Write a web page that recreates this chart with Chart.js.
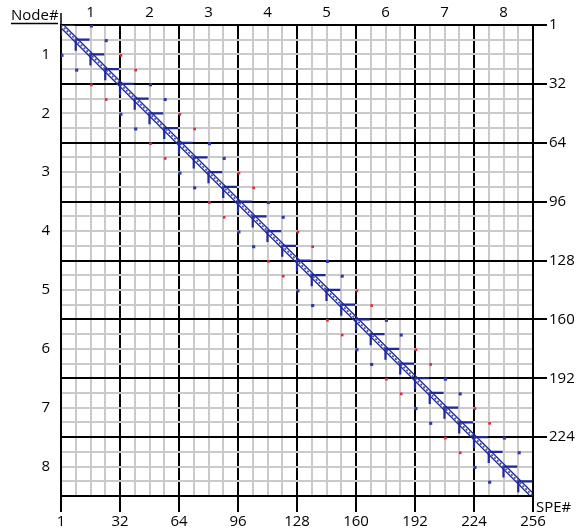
<!DOCTYPE html>
<html>
<head>
<meta charset="utf-8">
<script src="https://cdn.jsdelivr.net/npm/chart.js@4/dist/chart.umd.min.js"></script>
<style>
	body { margin: 0; background: #fff; }
</style>
</head>
<body>
<canvas id="grafico" width="576" height="529"></canvas>
<script>
// rotulos dos eixos
const rotulosNode = ['1', '2', '3', '4', '5', '6', '7', '8'];
const rotulosSpe = [1, 32, 64, 96, 128, 160, 192, 224, 256];

// inicio de cada bloco de 8 SPEs na diagonal (cantos em L)
const iniciosBloco = [1, 9, 17, 25, 33, 41, 49, 57, 65, 73, 81, 89, 97, 105, 113, 121,
	129, 137, 145, 153, 161, 169, 177, 185, 193, 201, 209, 217, 225, 233, 241, 249];

// pontos [coluna, linha] dentro do mesmo node (azul)
const pontosAzuis = [
	[17, 1], [25, 9], [1, 17], [9, 25],
	[49, 33], [57, 41], [33, 49], [41, 57],
	[81, 65], [89, 73], [65, 81], [73, 89],
	[113, 97], [121, 105], [97, 113], [105, 121],
	[145, 129], [153, 137], [129, 145], [137, 153],
	[177, 161], [185, 169], [161, 177], [169, 185],
	[209, 193], [217, 201], [193, 209], [201, 217],
	[241, 225], [249, 233], [225, 241], [233, 249]
];

// pontos [coluna, linha] entre nodes vizinhos (vermelho)
const pontosVermelhos = [
	[33, 17], [41, 25], [17, 33], [25, 41],
	[65, 49], [73, 57], [49, 65], [57, 73],
	[97, 81], [105, 89], [81, 97], [89, 105],
	[129, 113], [137, 121], [113, 129], [121, 137],
	[161, 145], [169, 153], [145, 161], [153, 169],
	[193, 177], [201, 185], [177, 193], [185, 201],
	[225, 209], [233, 217], [209, 225], [217, 233]
];

const AZUL = '#1f2a98';
const FONTE = { family: 'Open Sans', size: 15 };

function montaCantos() {
	const pts = [];
	iniciosBloco.forEach(s => {
		const c = s - 1;
		// y nulo quebra a linha entre um L e o proximo
		pts.push({ x: c + 7.5, y: c }, { x: c, y: c }, { x: c, y: c + 6 }, { x: c, y: null });
	});
	return pts;
}

function rotuloSpe(valor) {
	const achado = rotulosSpe.find(s => (s === 1 ? 0 : s) === valor);
	return achado === undefined ? '' : String(achado);
}

const corGrade = (ctx) => (ctx.tick && ctx.tick.value % 32 === 0) ? '#000' : '#cacaca';

// textos soltos: Node# e SPE#
const pluginTextos = {
	id: 'textos',
	afterDraw(chart) {
		const c = chart.ctx;
		const a = chart.chartArea;
		c.save();
		c.fillStyle = '#000';
		c.strokeStyle = '#000';
		c.font = '15px "Open Sans"';
		c.textBaseline = 'alphabetic';
		c.textAlign = 'left';
		c.fillText('Node#', 11, 20);
		c.fillText('SPE#', a.right + 3, a.bottom + 16);
		c.lineWidth = 1.5;
		c.beginPath();
		c.moveTo(11, 23.5);
		c.lineTo(58, 23.5);
		c.moveTo(a.left, a.top);
		c.lineTo(a.left, 13);
		c.stroke();
		c.restore();
	}
};

const ctx = document.getElementById('grafico');
new Chart(ctx, {
	type: 'scatter',
	data: {
		datasets: [
			{
				data: [{ x: 0.5, y: 2 }, { x: 254, y: 255.5 }],
				showLine: true, borderColor: AZUL, borderWidth: 1.3, pointRadius: 0
			},
			{
				data: [{ x: 2, y: 0.5 }, { x: 255.5, y: 254 }],
				showLine: true, borderColor: AZUL, borderWidth: 1.3, pointRadius: 0
			},
			{
				data: [{ x: 0, y: 0 }, { x: 256, y: 256 }],
				showLine: true, borderColor: '#3a46b5', borderWidth: 1.6, borderDash: [2, 2], pointRadius: 0
			},
			{
				data: montaCantos(),
				showLine: true, spanGaps: false, borderColor: AZUL, borderWidth: 2.2, pointRadius: 0
			},
			{
				data: pontosAzuis.map(p => ({ x: p[0] - 0.5, y: p[1] - 0.5 })),
				pointStyle: 'rect', pointRadius: 2.2, backgroundColor: '#2c38a8', borderWidth: 0
			},
			{
				data: pontosVermelhos.map(p => ({ x: p[0] - 0.5, y: p[1] - 0.5 })),
				pointStyle: 'rect', pointRadius: 1.9, backgroundColor: '#e3283c', borderWidth: 0
			}
		]
	},
	options: {
		responsive: false,
		animation: false,
		layout: { padding: 0 },
		plugins: { legend: { display: false }, tooltip: { enabled: false } },
		scales: {
			x: {
				type: 'linear', position: 'bottom', min: 0, max: 256,
				ticks: { stepSize: 8, autoSkip: false, maxRotation: 0, color: '#000', font: FONTE, padding: 1, callback: rotuloSpe },
				grid: {
					color: corGrade, lineWidth: 2, tickLength: 16, tickWidth: 2,
					tickColor: (c) => c.tick.value % 32 === 0 ? '#000' : 'rgba(0,0,0,0)'
				},
				border: { color: '#000', width: 2 },
				afterFit: (s) => { s.height = 33; }
			},
			xn: {
				type: 'linear', position: 'top', min: 0, max: 256,
				afterBuildTicks: (s) => { s.ticks = rotulosNode.map((n, i) => ({ value: 16 + 32 * i })); },
				ticks: { autoSkip: false, maxRotation: 0, color: '#000', font: FONTE, padding: 3, callback: (v, i) => rotulosNode[i] },
				grid: { display: false, drawTicks: false },
				border: { color: '#000', width: 2 },
				afterFit: (s) => { s.height = 25; }
			},
			y: {
				type: 'linear', position: 'right', reverse: true, min: 0, max: 256,
				ticks: {
					stepSize: 8, autoSkip: false, color: '#000', font: FONTE, padding: 2,
					callback: (v) => v === 256 ? '' : rotuloSpe(v)
				},
				grid: {
					color: corGrade, lineWidth: 2, tickLength: 14, tickWidth: 2,
					tickColor: (c) => (c.tick.value % 32 === 0 && c.tick.value !== 256) ? '#000' : 'rgba(0,0,0,0)'
				},
				border: { color: '#000', width: 2 },
				afterFit: (s) => { s.width = 43; }
			},
			yn: {
				type: 'linear', position: 'left', reverse: true, min: 0, max: 256,
				afterBuildTicks: (s) => { s.ticks = rotulosNode.map((n, i) => ({ value: 16 + 32 * i })); },
				ticks: { autoSkip: false, color: '#000', font: FONTE, padding: 11, callback: (v, i) => rotulosNode[i] },
				grid: { display: false, drawTicks: false },
				border: { color: '#000', width: 2 },
				afterFit: (s) => { s.width = 61; }
			}
		}
	},
	plugins: [pluginTextos]
});
</script>
</body>
</html>
